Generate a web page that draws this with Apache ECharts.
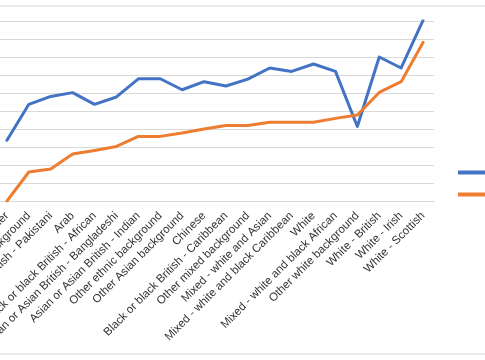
<!DOCTYPE html>
<html>
<head>
<meta charset="utf-8">
<script src="https://cdn.jsdelivr.net/npm/echarts@6/dist/echarts.min.js"></script>
<style>html,body{margin:0;padding:0;background:#fff;}#c{width:485px;height:360px;}</style>
</head>
<body>
<div id="c"></div>
<script>
const categories = [
  "Black or black British - other",
  "Any other background",
  "Asian or Asian British - Pakistani",
  "Arab",
  "Black or black British - African",
  "Asian or Asian British - Bangladeshi",
  "Asian or Asian British - Indian",
  "Other ethnic background",
  "Other Asian background",
  "Chinese",
  "Black or black British - Caribbean",
  "Other mixed background",
  "Mixed - white and Asian",
  "Mixed - white and black Caribbean",
  "White",
  "Mixed - white and black African",
  "Other white background",
  "White - British",
  "White - Irish",
  "White - Scottish"
];
const seriesA = [3.37, 5.37, 5.81, 6.02, 5.37, 5.78, 6.79, 6.79, 6.18, 6.63, 6.39, 6.77, 7.39, 7.2, 7.61, 7.2, 4.14, 8.0, 7.39, 10.03];
const seriesB = [0.0, 1.61, 1.78, 2.61, 2.81, 3.03, 3.59, 3.59, 3.78, 4.0, 4.2, 4.2, 4.37, 4.37, 4.37, 4.59, 4.78, 6.03, 6.63, 8.81];
const seriesNames = ["Series 1", "Series 2"];

const chart = echarts.init(document.getElementById('c'), null, {renderer: 'canvas'});
chart.setOption({
  animation: false,
  backgroundColor: '#ffffff',
  graphic: [{
    type: 'rect', silent: true, z: -1,
    shape: {x: -5, y: 6, width: 495, height: 348},
    style: {fill: 'none', stroke: '#d9d9d9', lineWidth: 1}
  }],
  grid: {left: -4, right: 51, top: 21, height: 180, containLabel: false, outerBoundsMode: 'none'},
  legend: {
    orient: 'vertical', left: 453, top: 161.5, itemWidth: 30, itemHeight: 4, itemGap: 10,
    icon: 'rect', textStyle: {fontSize: 12, color: '#595959'},
    data: seriesNames
  },
  xAxis: {
    type: 'category', data: categories, boundaryGap: true,
    axisLine: {lineStyle: {color: '#d9d9d9', width: 1}},
    axisTick: {show: false},
    axisLabel: {rotate: 45, interval: 0, margin: 13, hideOverlap: false, fontFamily: 'Liberation Sans', fontSize: 11.5, color: '#333333'}
  },
  yAxis: {
    type: 'value', min: 0, max: 10, interval: 1,
    axisLabel: {show: false}, axisLine: {show: false}, axisTick: {show: false},
    splitLine: {lineStyle: {color: '#d9d9d9', width: 1}}
  },
  series: [
    {name: seriesNames[0], type: 'line', data: seriesA, showSymbol: false, symbol: 'none',
     lineStyle: {color: '#4472C4', width: 3, join: 'round', cap: 'round'}, itemStyle: {color: '#4472C4'}},
    {name: seriesNames[1], type: 'line', data: seriesB, showSymbol: false, symbol: 'none',
     lineStyle: {color: '#ED7D31', width: 3, join: 'round', cap: 'round'}, itemStyle: {color: '#ED7D31'}}
  ]
});
</script>
</body>
</html>
